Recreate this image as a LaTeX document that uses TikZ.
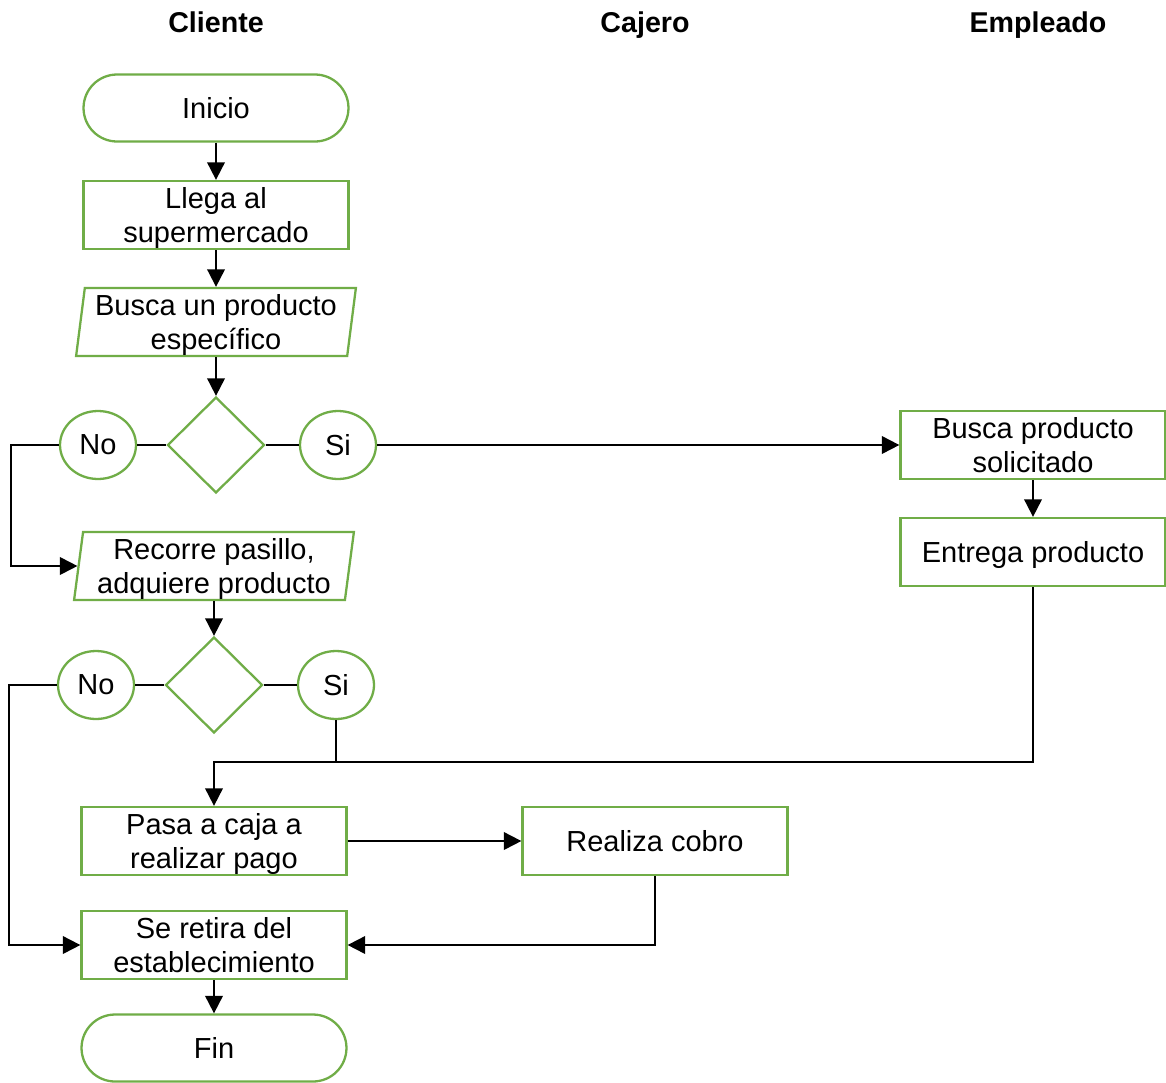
\documentclass[tikz,border=0pt]{standalone}
\usepackage{fontspec}
\setmainfont{Liberation Sans}
\usepackage{xcolor}
\definecolor{flowGreen}{HTML}{70AD47}
\usetikzlibrary{shapes.geometric, arrows.meta}

\begin{document}
\begin{tikzpicture}[x=0.02cm, y=-0.02cm,
  font=\fontsize{16.5}{19}\selectfont,
  terminal/.style={rectangle, rounded corners=0.67cm, draw=flowGreen, line width=1.3pt, minimum width=5.3cm, minimum height=1.34cm, align=center, text depth=0pt},
  process/.style={rectangle, draw=flowGreen, line width=1.3pt, minimum width=5.3cm, minimum height=1.36cm, align=center, inner sep=1pt, text depth=0pt},
  inout/.style={trapezium, trapezium left angle=82, trapezium right angle=98, trapezium stretches=true, draw=flowGreen, line width=1.3pt, minimum width=5.6cm, minimum height=1.36cm, align=center, inner sep=1pt, text depth=0pt},
  decision/.style={diamond, draw=flowGreen, line width=1.3pt, minimum width=1.94cm, minimum height=1.92cm, inner sep=0pt},
  answer/.style={ellipse, draw=flowGreen, line width=1.3pt, minimum width=1.52cm, minimum height=1.36cm, inner sep=0pt, text depth=0pt},
  lane/.style={font=\fontsize{16.3}{19}\selectfont\bfseries, text depth=0pt},
  arr/.style={line width=1.1pt, -{Triangle[length=10pt, width=10pt]}},
  link/.style={line width=0.6pt}]
  \useasboundingbox[fill=white] (0,0) rectangle (1166,1082);
  \node[lane] (cliente) at (216,22) {Cliente};
  \node[lane] (cajero) at (645,22) {Cajero};
  \node[lane] (empleado) at (1038,22) {Empleado};
  \node[terminal] (inicio) at (216,108) {Inicio};
  \node[process] (llega) at (216,215) {Llega al\\supermercado};
  \node[inout] (busca) at (216,322) {Busca un producto\\específico};
  \node[decision] (dec1) at (216,445) {};
  \node[answer] (no1) at (98,445) {No};
  \node[answer] (si1) at (338,445) {Si};
  \node[process] (solicitado) at (1033,445) {Busca producto\\solicitado};
  \node[process] (entrega) at (1033,552) {Entrega producto};
  \node[inout] (recorre) at (214,566) {Recorre pasillo,\\adquiere producto};
  \node[decision] (dec2) at (214,685) {};
  \node[answer] (no2) at (96,685) {No};
  \node[answer] (si2) at (336,685) {Si};
  \coordinate (junta) at (336,762);
  \node[process] (pasa) at (214,841) {Pasa a caja a\\realizar pago};
  \node[process] (cobro) at (655,841) {Realiza cobro};
  \node[process] (retira) at (214,945) {Se retira del\\establecimiento};
  \node[terminal] (fin) at (214,1048) {Fin};
  \draw[arr] (inicio) -- (llega);
  \draw[arr] (llega) -- (busca);
  \draw[arr] (busca) -- (dec1);
  \draw[link] (no1) -- (dec1);
  \draw[link] (dec1) -- (si1);
  \draw[arr] (si1) -- (solicitado);
  \draw[arr] (solicitado) -- (entrega);
  \draw[arr] (no1.west) -- ++(-48,0) |- (recorre);
  \draw[arr] (recorre) -- (dec2);
  \draw[link] (no2) -- (dec2);
  \draw[link] (dec2) -- (si2);
  \draw[link] (entrega.south) |- (junta);
  \draw[arr] (si2.south) -- (junta) -| (pasa.north);
  \draw[arr] (no2.west) -- ++(-48,0) |- (retira);
  \draw[arr] (pasa) -- (cobro);
  \draw[arr] (cobro.south) |- (retira.east);
  \draw[arr] (retira) -- (fin);
\end{tikzpicture}
\end{document}
